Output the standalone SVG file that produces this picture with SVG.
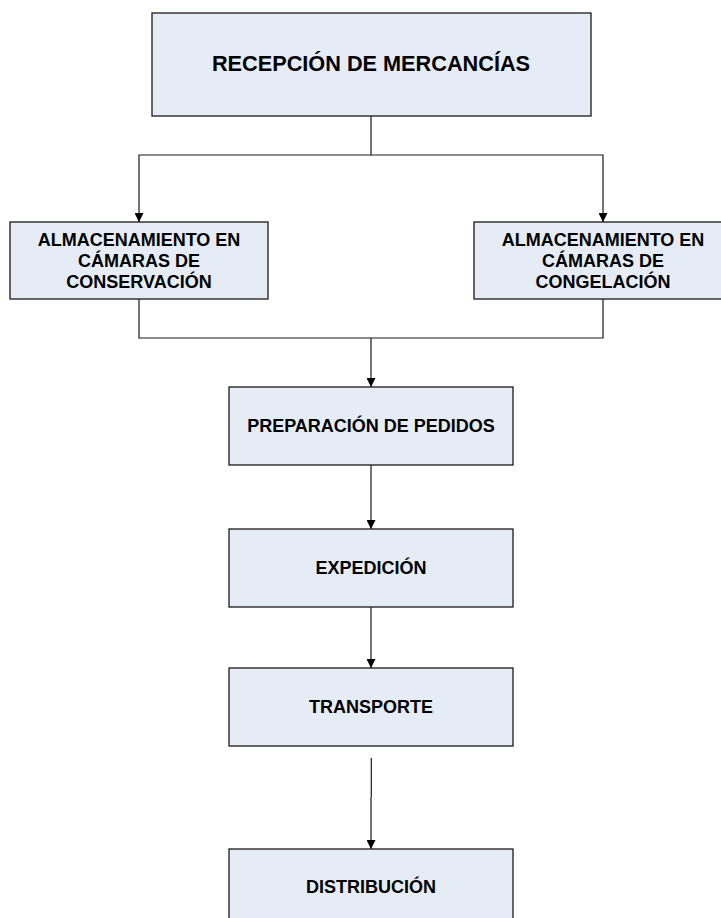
<svg xmlns="http://www.w3.org/2000/svg" width="721" height="918" viewBox="0 0 721 918">
<style>
.box{fill:#E6ECF6;stroke:#1a1a1a;stroke-width:1.3}
.t{font-family:"Liberation Sans",Arial,sans-serif;font-weight:bold;font-size:18px;fill:#000;text-anchor:middle}
.c{fill:none;stroke:#1a1a1a;stroke-width:1.2}
</style>
<defs>
<marker id="ah" viewBox="0 0 10 10" refX="10" refY="5" markerWidth="9" markerHeight="9" markerUnits="userSpaceOnUse" orient="auto">
<path d="M0,0 L10,5 L0,10 Z" fill="#000"/>
</marker>
</defs>
<rect width="721" height="918" fill="#fff"/>
<g id="connectors">
<path class="c" d="M371,116 V155 H139 V222" marker-end="url(#ah)"/>
<path class="c" d="M371,155 H603 V222" marker-end="url(#ah)"/>
<path class="c" d="M139,299 V338 H603 V299"/>
<path class="c" d="M371,338 V387" marker-end="url(#ah)"/>
<path class="c" d="M371,465 V529" marker-end="url(#ah)"/>
<path class="c" d="M371,607 V668" marker-end="url(#ah)"/>
<path class="c" d="M371.3,758 V797 M371,797 V849" marker-end="url(#ah)"/>
</g>
<g id="recepcion">
<rect class="box" x="152" y="13" width="439" height="103"/>
<text class="t" x="371" y="71" style="font-size:21.7px">RECEPCIÓN DE MERCANCÍAS</text>
</g>
<g id="conservacion">
<rect class="box" x="10" y="222" width="258" height="77"/>
<text class="t" x="139" y="246">ALMACENAMIENTO EN</text>
<text class="t" x="139" y="267">CÁMARAS DE</text>
<text class="t" x="139" y="288">CONSERVACIÓN</text>
</g>
<g id="congelacion">
<rect class="box" x="474" y="222" width="260" height="77"/>
<text class="t" x="603" y="246">ALMACENAMIENTO EN</text>
<text class="t" x="603" y="267">CÁMARAS DE</text>
<text class="t" x="603" y="288">CONGELACIÓN</text>
</g>
<g id="preparacion">
<rect class="box" x="229" y="387" width="284" height="78"/>
<text class="t" x="371" y="432">PREPARACIÓN DE PEDIDOS</text>
</g>
<g id="expedicion">
<rect class="box" x="229" y="529" width="284" height="78"/>
<text class="t" x="371" y="574">EXPEDICIÓN</text>
</g>
<g id="transporte">
<rect class="box" x="229" y="668" width="284" height="78"/>
<text class="t" x="371" y="713">TRANSPORTE</text>
</g>
<g id="distribucion">
<rect class="box" x="229" y="849" width="284" height="90"/>
<text class="t" x="371" y="893">DISTRIBUCIÓN</text>
</g>
</svg>
